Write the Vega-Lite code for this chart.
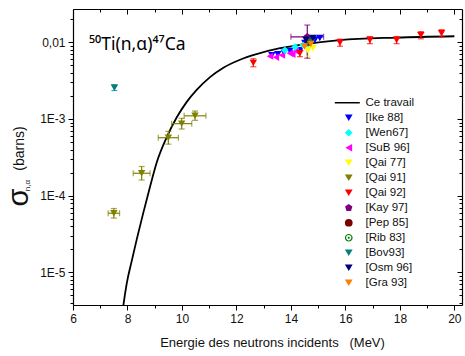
{
  "$schema": "https://vega.github.io/schema/vega-lite/v6.json",
  "width": 389,
  "height": 296,
  "autosize": {"type": "none"},
  "padding": {"left": 73, "top": 9, "right": 3, "bottom": 51},
  "background": "white",
  "config": {
    "view": {"stroke": null},
    "axis": {
      "grid": false,
      "domainColor": "black",
      "domainWidth": 1.2,
      "tickColor": "black",
      "tickWidth": 1,
      "labelColor": "#111",
      "labelFont": "Liberation Sans",
      "labelFontSize": 12,
      "titleFont": "Liberation Sans",
      "titleFontWeight": "normal",
      "titleColor": "#111"
    }
  },
  "title": {
    "text": "⁵⁰Ti(n,α)⁴⁷Ca",
    "anchor": "start",
    "frame": "group",
    "offset": 0,
    "baseline": "alphabetic",
    "dx": 16,
    "dy": 59,
    "fontSize": 17.5,
    "fontWeight": "normal",
    "font": "Noto Sans",
    "color": "black"
  },
  "datasets": {
    "curve": [
      {"src": "Ce travail", "e": 7.80, "s": 2.69e-6},
      {"src": "Ce travail", "e": 7.85, "s": 3.72e-6},
      {"src": "Ce travail", "e": 7.97, "s": 7.08e-6},
      {"src": "Ce travail", "e": 8.15, "s": 1.38e-5},
      {"src": "Ce travail", "e": 8.34, "s": 2.69e-5},
      {"src": "Ce travail", "e": 8.58, "s": 5.96e-5},
      {"src": "Ce travail", "e": 8.83, "s": 1.318e-4},
      {"src": "Ce travail", "e": 9.07, "s": 2.69e-4},
      {"src": "Ce travail", "e": 9.45, "s": 5.89e-4},
      {"src": "Ce travail", "e": 9.81, "s": 1.052e-3},
      {"src": "Ce travail", "e": 10.17, "s": 1.66e-3},
      {"src": "Ce travail", "e": 10.54, "s": 2.393e-3},
      {"src": "Ce travail", "e": 11.03, "s": 3.516e-3},
      {"src": "Ce travail", "e": 11.52, "s": 4.667e-3},
      {"src": "Ce travail", "e": 12.13, "s": 5.93e-3},
      {"src": "Ce travail", "e": 12.74, "s": 7.015e-3},
      {"src": "Ce travail", "e": 13.60, "s": 8.375e-3},
      {"src": "Ce travail", "e": 14.33, "s": 9.27e-3},
      {"src": "Ce travail", "e": 15.80, "s": 1.069e-2},
      {"src": "Ce travail", "e": 17.88, "s": 1.153e-2},
      {"src": "Ce travail", "e": 20.00, "s": 1.20e-2}
    ],
    "pts": [
      {"src": "[Ike 88]", "e": 13.30, "s": 6.8e-3},
      {"src": "[Ike 88]", "e": 13.52, "s": 7.0e-3},
      {"src": "[Ike 88]", "e": 13.75, "s": 7.3e-3},
      {"src": "[Ike 88]", "e": 13.96, "s": 7.7e-3},
      {"src": "[Ike 88]", "e": 14.33, "s": 7.9e-3},
      {"src": "[Ike 88]", "e": 14.51, "s": 9.8e-3},
      {"src": "[Ike 88]", "e": 14.70, "s": 1.12e-2},
      {"src": "[Ike 88]", "e": 14.88, "s": 1.07e-2},
      {"src": "[Ike 88]", "e": 15.06, "s": 1.14e-2},
      {"src": "[SuB 96]", "e": 13.23, "s": 6.6e-3},
      {"src": "[SuB 96]", "e": 13.45, "s": 6.4e-3},
      {"src": "[SuB 96]", "e": 13.67, "s": 6.8e-3},
      {"src": "[SuB 96]", "e": 13.96, "s": 7.2e-3},
      {"src": "[SuB 96]", "e": 14.05, "s": 7.0e-3},
      {"src": "[SuB 96]", "e": 14.18, "s": 7.7e-3},
      {"src": "[Wen67]", "e": 13.78, "s": 7.9e-3},
      {"src": "[Wen67]", "e": 14.15, "s": 8.7e-3},
      {"src": "[Wen67]", "e": 14.44, "s": 9.2e-3},
      {"src": "[Wen67]", "e": 14.62, "s": 9.5e-3},
      {"src": "[Qai 77]", "e": 14.62, "s": 7.9e-3, "slo": 6.6e-3, "shi": 9.2e-3},
      {"src": "[Qai 77]", "e": 14.81, "s": 8.4e-3},
      {"src": "[Qai 91]", "e": 7.50, "s": 5.9e-5, "elo": 7.29, "ehi": 7.71, "slo": 5.1e-5, "shi": 6.8e-5},
      {"src": "[Qai 91]", "e": 8.52, "s": 1.96e-4, "elo": 8.21, "ehi": 8.83, "slo": 1.6e-4, "shi": 2.4e-4},
      {"src": "[Qai 91]", "e": 9.50, "s": 5.7e-4, "elo": 9.13, "ehi": 9.87, "slo": 4.7e-4, "shi": 6.9e-4},
      {"src": "[Qai 91]", "e": 9.99, "s": 8.7e-4, "elo": 9.62, "ehi": 10.36, "slo": 7.4e-4, "shi": 1.02e-3},
      {"src": "[Qai 91]", "e": 10.48, "s": 1.1e-3, "elo": 10.08, "ehi": 10.88, "slo": 9.6e-4, "shi": 1.27e-3},
      {"src": "[Qai 92]", "e": 12.62, "s": 5.4e-3, "slo": 4.8e-3, "shi": 6.1e-3},
      {"src": "[Qai 92]", "e": 14.33, "s": 7.2e-3, "slo": 6.5e-3, "shi": 8.0e-3},
      {"src": "[Qai 92]", "e": 15.80, "s": 9.9e-3, "slo": 8.9e-3, "shi": 1.1e-2},
      {"src": "[Qai 92]", "e": 16.90, "s": 1.07e-2, "slo": 9.6e-3, "shi": 1.19e-2},
      {"src": "[Qai 92]", "e": 17.88, "s": 1.07e-2, "slo": 9.6e-3, "shi": 1.19e-2},
      {"src": "[Qai 92]", "e": 18.77, "s": 1.24e-2, "slo": 1.11e-2, "shi": 1.38e-2},
      {"src": "[Qai 92]", "e": 19.53, "s": 1.31e-2, "slo": 1.18e-2, "shi": 1.46e-2},
      {"src": "[Kay 97]", "e": 14.60, "s": 1.18e-2, "elo": 14.0, "ehi": 15.2, "slo": 6.2e-3, "shi": 1.68e-2},
      {"src": "[Pep 85]", "e": 14.66, "s": 1.01e-2},
      {"src": "[Rib 83]", "e": 14.70, "s": 1.04e-2},
      {"src": "[Bov93]", "e": 7.52, "s": 2.56e-3, "slo": 2.35e-3, "shi": 2.8e-3},
      {"src": "[Bov93]", "e": 14.75, "s": 1.0e-2},
      {"src": "[Osm 96]", "e": 14.55, "s": 1.08e-2},
      {"src": "[Osm 96]", "e": 14.81, "s": 1.14e-2},
      {"src": "[Gra 93]", "e": 14.50, "s": 8.8e-3},
      {"src": "[Gra 93]", "e": 14.73, "s": 9.5e-3}
    ]
  },
  "layer": [
    {
      "data": {"name": "curve"},
      "mark": {"type": "line", "interpolate": "monotone", "strokeWidth": 1.8, "clip": true},
      "encoding": {
        "x": {
          "field": "e", "type": "quantitative",
          "scale": {"domain": [6, 20.28], "nice": false, "zero": false},
          "axis": {
            "orient": "bottom",
            "values": [6, 7, 8, 9, 10, 11, 12, 13, 14, 15, 16, 17, 18, 19, 20],
            "labelExpr": "datum.value % 2 == 0 ? datum.label : ''",
            "tickSize": {"condition": {"test": "datum.value % 2 == 0", "value": 5}, "value": 3},
            "labelPadding": 3,
            "labelFlush": false,
            "labelOverlap": false,
            "title": "Energie des neutrons incidents\u00a0\u00a0\u00a0(MeV)",
            "titleFontSize": 13,
            "titleX": 199,
            "titleY": 37,
            "titleAlign": "center",
            "titleBaseline": "middle"
          }
        },
        "y": {
          "field": "s", "type": "quantitative",
          "scale": {"type": "log", "domain": [3.75e-6, 0.0272], "nice": false},
          "axis": {
            "orient": "left",
            "values": [4e-6, 5e-6, 6e-6, 7e-6, 8e-6, 9e-6, 1e-5, 2e-5, 3e-5, 4e-5, 5e-5, 6e-5, 7e-5, 8e-5, 9e-5, 1e-4, 2e-4, 3e-4, 4e-4, 5e-4, 6e-4, 7e-4, 8e-4, 9e-4, 1e-3, 2e-3, 3e-3, 4e-3, 5e-3, 6e-3, 7e-3, 8e-3, 9e-3, 0.01, 0.02],
            "labelExpr": "datum.value == 0.01 ? '0,01' : datum.value == 0.001 ? '1E-3' : datum.value == 0.0001 ? '1E-4' : datum.value == 0.00001 ? '1E-5' : ''",
            "tickSize": {"condition": {"test": "indexof([0.01, 0.001, 0.0001, 0.00001], datum.value) >= 0", "value": 5}, "value": 3},
            "labelPadding": 3,
            "labelOverlap": false,
            "labelFlush": false,
            "title": "(barns)",
            "titleFontSize": 14,
            "titleAngle": -90,
            "titleX": -54,
            "titleY": 139,
            "titleAlign": "center",
            "titleBaseline": "middle"
          }
        },
        "color": {
          "field": "src", "type": "nominal", "legend": null,
          "scale": {
            "domain": ["Ce travail", "[Ike 88]", "[Wen67]", "[SuB 96]", "[Qai 77]", "[Qai 91]", "[Qai 92]", "[Kay 97]", "[Pep 85]", "[Rib 83]", "[Bov93]", "[Osm 96]", "[Gra 93]"],
            "range": ["#000000", "#0000ff", "#00ffff", "#ff00ff", "#ffff00", "#808000", "#ff0000", "#800080", "#7a0000", "#008000", "#008080", "#000080", "#ff8000"]
          }
        }
      }
    },
    {
      "data": {"name": "pts"},
      "mark": {"type": "rule", "strokeWidth": 1.2},
      "encoding": {
        "x": {"field": "elo", "type": "quantitative", "axis": null},
        "x2": {"field": "ehi"},
        "y": {
          "field": "s", "type": "quantitative",
          "axis": {
            "orient": "left", "labels": false, "ticks": false, "domain": false,
            "title": "σ", "titleFont": "Liberation Sans", "titleFontSize": 29,
            "titleAngle": -90, "titleX": -54.5, "titleY": 188,
            "titleAlign": "center", "titleBaseline": "middle"
          }
        },
        "color": {"field": "src", "type": "nominal", "legend": null}
      }
    },
    {
      "data": {"name": "pts"},
      "mark": {"type": "rule", "strokeWidth": 1.2},
      "encoding": {
        "x": {"field": "e", "type": "quantitative", "axis": null},
        "y": {
          "field": "slo", "type": "quantitative",
          "axis": {
            "orient": "left", "labels": false, "ticks": false, "domain": false,
            "title": "n,α", "titleFont": "Liberation Sans", "titleFontSize": 8,
            "titleAngle": -90, "titleX": -45.5, "titleY": 176,
            "titleAlign": "center", "titleBaseline": "middle"
          }
        },
        "y2": {"field": "shi"},
        "color": {"field": "src", "type": "nominal", "legend": null}
      }
    },
    {
      "data": {"name": "pts"},
      "mark": {"type": "tick", "orient": "vertical", "size": 6, "thickness": 1.2},
      "encoding": {
        "x": {"field": "elo", "type": "quantitative", "axis": null},
        "y": {"field": "s", "type": "quantitative", "axis": null},
        "color": {"field": "src", "type": "nominal", "legend": null}
      }
    },
    {
      "data": {"name": "pts"},
      "mark": {"type": "tick", "orient": "vertical", "size": 6, "thickness": 1.2},
      "encoding": {
        "x": {"field": "ehi", "type": "quantitative", "axis": null},
        "y": {"field": "s", "type": "quantitative", "axis": null},
        "color": {"field": "src", "type": "nominal", "legend": null}
      }
    },
    {
      "data": {"name": "pts"},
      "mark": {"type": "tick", "orient": "horizontal", "size": 6, "thickness": 1.2},
      "encoding": {
        "x": {"field": "e", "type": "quantitative", "axis": null},
        "y": {"field": "slo", "type": "quantitative", "axis": null},
        "color": {"field": "src", "type": "nominal", "legend": null}
      }
    },
    {
      "data": {"name": "pts"},
      "mark": {"type": "tick", "orient": "horizontal", "size": 6, "thickness": 1.2},
      "encoding": {
        "x": {"field": "e", "type": "quantitative", "axis": null},
        "y": {"field": "shi", "type": "quantitative", "axis": null},
        "color": {"field": "src", "type": "nominal", "legend": null}
      }
    },
    {
      "data": {"name": "pts"},
      "mark": {"type": "point", "filled": true, "size": 55, "opacity": 1},
      "encoding": {
        "x": {
          "field": "e", "type": "quantitative",
          "axis": {
            "orient": "top", "labels": false, "title": null,
            "values": [6, 7, 8, 9, 10, 11, 12, 13, 14, 15, 16, 17, 18, 19, 20],
            "tickSize": {"condition": {"test": "datum.value % 2 == 0", "value": -5}, "value": -3}
          }
        },
        "y": {
          "field": "s", "type": "quantitative",
          "axis": {
            "orient": "right", "labels": false, "title": null,
            "values": [4e-6, 5e-6, 6e-6, 7e-6, 8e-6, 9e-6, 1e-5, 2e-5, 3e-5, 4e-5, 5e-5, 6e-5, 7e-5, 8e-5, 9e-5, 1e-4, 2e-4, 3e-4, 4e-4, 5e-4, 6e-4, 7e-4, 8e-4, 9e-4, 1e-3, 2e-3, 3e-3, 4e-3, 5e-3, 6e-3, 7e-3, 8e-3, 9e-3, 0.01, 0.02],
            "tickSize": {"condition": {"test": "indexof([0.01, 0.001, 0.0001, 0.00001], datum.value) >= 0", "value": -5}, "value": -3}
          }
        },
        "color": {
          "field": "src", "type": "nominal",
          "scale": {
            "domain": ["Ce travail", "[Ike 88]", "[Wen67]", "[SuB 96]", "[Qai 77]", "[Qai 91]", "[Qai 92]", "[Kay 97]", "[Pep 85]", "[Rib 83]", "[Bov93]", "[Osm 96]", "[Gra 93]"],
            "range": ["#000000", "#0000ff", "#00ffff", "#ff00ff", "#ffff00", "#808000", "#ff0000", "#800080", "#7a0000", "#008000", "#008080", "#000080", "#ff8000"]
          },
          "legend": {
            "orient": "none", "legendX": 270, "legendY": 88, "title": null,
            "padding": 0, "symbolSize": 60, "symbolStrokeWidth": 0,
            "labelFont": "Liberation Sans", "labelFontSize": 11.5, "labelColor": "#111",
            "labelOffset": 11, "rowPadding": 2, "labelLimit": 120
          }
        },
        "shape": {
          "field": "src", "type": "nominal",
          "scale": {
            "domain": ["Ce travail", "[Ike 88]", "[Wen67]", "[SuB 96]", "[Qai 77]", "[Qai 91]", "[Qai 92]", "[Kay 97]", "[Pep 85]", "[Rib 83]", "[Bov93]", "[Osm 96]", "[Gra 93]"],
            "range": [
              "M-3.6,-0.19H2.85V0.19H-3.6Z",
              "triangle-down", "diamond", "triangle-left", "triangle-down", "triangle-down", "triangle-down",
              "M0,-1L0.951,-0.309L0.588,0.809L-0.588,0.809L-0.951,-0.309Z",
              "circle",
              "M0,-1A1,1 0 1,1 0,1A1,1 0 1,1 0,-1ZM0,-0.68A0.68,0.68 0 1,0 0,0.68A0.68,0.68 0 1,0 0,-0.68ZM0,-0.28A0.28,0.28 0 1,1 0,0.28A0.28,0.28 0 1,1 0,-0.28Z",
              "triangle-down", "triangle-down", "triangle-down"
            ]
          },
          "legend": {
            "orient": "none", "legendX": 270, "legendY": 88, "title": null,
            "padding": 0, "symbolSize": 60, "symbolStrokeWidth": 0,
            "labelFont": "Liberation Sans", "labelFontSize": 11.5, "labelColor": "#111",
            "labelOffset": 11, "rowPadding": 2, "labelLimit": 120
          }
        }
      }
    }
  ],
  "resolve": {
    "axis": {"x": "independent", "y": "independent"},
    "legend": {"color": "independent", "shape": "independent"}
  }
}
